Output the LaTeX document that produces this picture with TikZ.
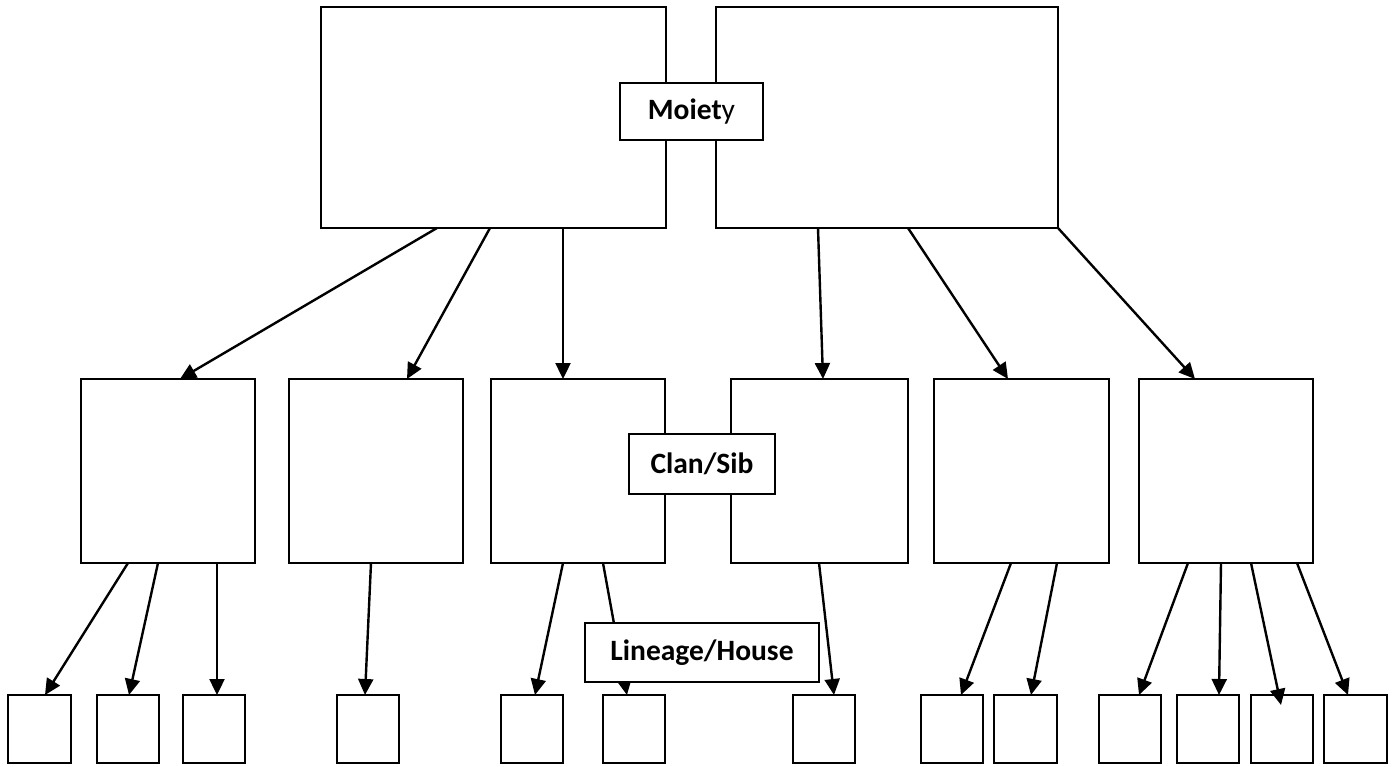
\documentclass[tikz,border=0pt]{standalone}
\usepackage{fontspec}
\setmainfont{Carlito}
\usetikzlibrary{arrows.meta}
\tikzset{
  box/.style={draw=black, fill=white, line width=2.3pt, inner sep=0pt, outer sep=0pt, anchor=north west},
  lbl/.style={box, font=\fontsize{29.5}{34}\selectfont\bfseries},
  arr/.style={draw=black, line width=2.4pt, -{Triangle[length=16pt,width=15pt]}}
}
\newcommand{\bx}[5]{\node[box, minimum width=#4pt-#2pt, minimum height=#5pt-#3pt] (#1) at (#2,#3) {};}
\begin{document}
\begin{tikzpicture}[x=1pt,y=-1pt]
\useasboundingbox[fill=white] (0,0) rectangle (1395,767);
% top row
\bx{TL}{321}{7}{666}{228}
\bx{TR}{716}{7}{1058}{228}
% middle row
\bx{Ba}{81}{379}{255}{563}
\bx{Bb}{289}{379}{463}{563}
\bx{Bc}{491}{379}{665}{563}
\bx{Bd}{731}{379}{908}{563}
\bx{Be}{934}{379}{1109}{563}
\bx{Bf}{1139}{379}{1313}{563}
% bottom row
\bx{ba}{8}{695}{71}{763}
\bx{bb}{97}{695}{159}{763}
\bx{bc}{183}{695}{245}{763}
\bx{bd}{337}{695}{399}{763}
\bx{be}{501}{695}{563}{763}
\bx{bf}{603}{695}{665}{763}
\bx{bg}{793}{695}{855}{763}
\bx{bh}{921}{695}{983}{763}
\bx{bi}{994}{695}{1057}{763}
\bx{bj}{1099}{695}{1161}{763}
\bx{bk}{1177}{695}{1239}{763}
\bx{bl}{1251}{695}{1313}{763}
\bx{bm}{1324}{695}{1387}{763}
% top arrows
\draw[arr] ([xshift=116pt]TL.south west) -- ([xshift=99pt]Ba.north west);
\draw[arr] ([xshift=169pt]TL.south west) -- ([xshift=118pt]Bb.north west);
\draw[arr] ([xshift=242pt]TL.south west) -- ([xshift=72pt]Bc.north west);
\draw[arr] ([xshift=102pt]TR.south west) -- ([xshift=92pt]Bd.north west);
\draw[arr] ([xshift=192pt]TR.south west) -- ([xshift=74pt]Be.north west);
\draw[arr] (TR.south east) -- ([xshift=56pt]Bf.north west);
% bottom arrows
\draw[arr] ([xshift=47pt]Ba.south west) -- ([xshift=37pt]ba.north west);
\draw[arr] ([xshift=77pt]Ba.south west) -- ([xshift=32pt]bb.north west);
\draw[arr] ([xshift=136pt]Ba.south west) -- ([xshift=34pt]bc.north west);
\draw[arr] ([xshift=82pt]Bb.south west) -- ([xshift=28pt]bd.north west);
\draw[arr] ([xshift=72pt]Bc.south west) -- ([xshift=34pt]be.north west);
\draw[arr] ([xshift=112pt]Bc.south west) -- ([xshift=24pt]bf.north west);
\draw[arr] ([xshift=88pt]Bd.south west) -- ([xshift=41pt]bg.north west);
\draw[arr] ([xshift=77pt]Be.south west) -- ([xshift=40pt]bh.north west);
\draw[arr] ([xshift=123pt]Be.south west) -- ([xshift=37pt]bi.north west);
\draw[arr] ([xshift=49pt]Bf.south west) -- ([xshift=40pt]bj.north west);
\draw[arr] ([xshift=82pt]Bf.south west) -- ([xshift=42pt]bk.north west);
\draw[arr] ([xshift=112pt]Bf.south west) -- ([xshift=30pt,yshift=-10pt]bl.north west);
\draw[arr] ([xshift=158pt]Bf.south west) -- ([xshift=24pt]bm.north west);
% labels
\node[lbl, minimum width=143pt, minimum height=57pt] (moiety) at (620,83) {Moiet\mdseries y};
\node[lbl, minimum width=146pt, minimum height=60pt] (clan) at (629,434) {Clan/Sib};
\node[lbl, minimum width=234pt, minimum height=59pt] (lineage) at (585,623) {Lineage/House};
\end{tikzpicture}
\end{document}
